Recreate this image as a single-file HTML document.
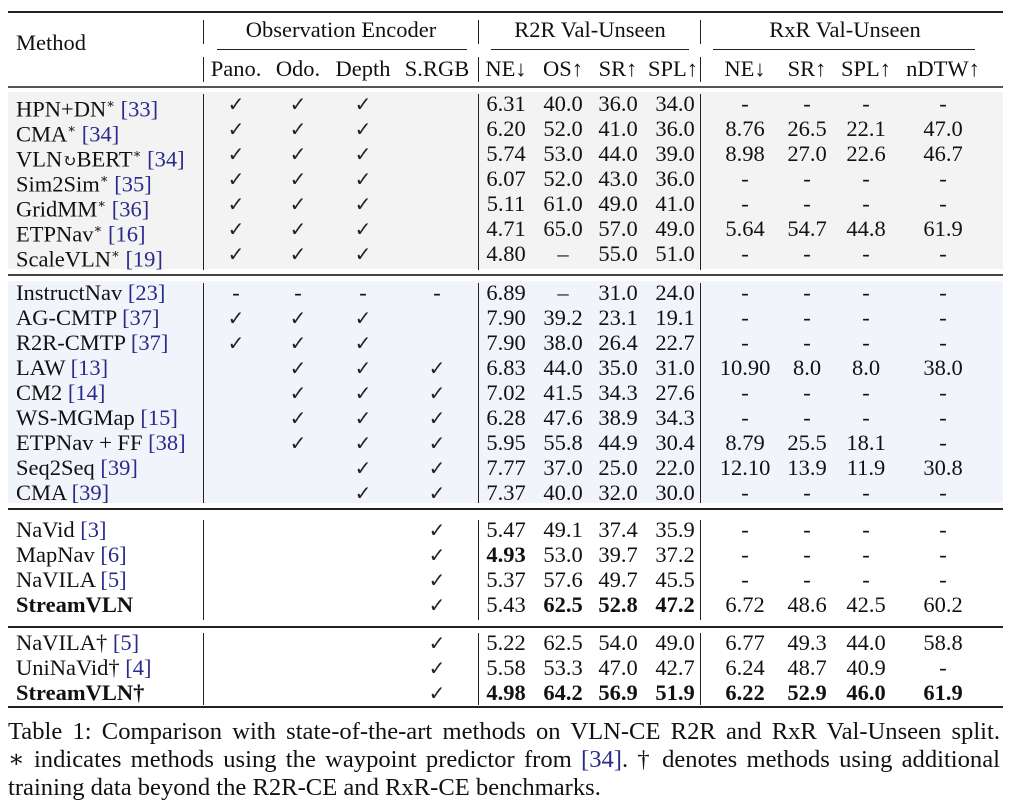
<!DOCTYPE html>
<html><head><meta charset="utf-8"><style>
body{margin:0;width:1009px;height:803px;background:#fff;position:relative;overflow:hidden;font-family:"Liberation Serif","DejaVu Serif",serif;font-size:22.5px;color:#111}
.a{position:absolute;line-height:24px;white-space:nowrap}
.c{position:absolute;line-height:24px;width:100px;margin-left:-50px;text-align:center;white-space:nowrap}
.r{position:absolute;left:8px;width:995px;background:#222}
.v{position:absolute;width:1.3px;background:#222}
.bg{position:absolute;left:8px;width:995px}
.k{color:#2a2a8a}
b{font-weight:bold}
.ck{color:#222;font-size:20px}
.cl{position:absolute;left:8px;width:992px;line-height:28px;text-align:justify;text-align-last:justify;font-size:24.6px;white-space:nowrap}
.cl2{position:absolute;left:8px;line-height:28px;font-size:24.6px;white-space:nowrap}
</style></head><body>
<div class="bg" style="top:92px;height:177px;background:#f3f3f3"></div>
<div class="bg" style="top:281px;height:222px;background:#f1f5fb"></div>
<div class="r" style="top:11px;height:2px"></div>
<div class="r" style="top:86px;height:2px;background:#555"></div>
<div class="r" style="top:274px;height:2px;background:#444"></div>
<div class="r" style="top:508px;height:1.5px"></div>
<div class="r" style="top:626px;height:1.5px"></div>
<div class="r" style="top:706px;height:2px"></div>
<div class="r" style="top:49px;height:1px;left:217px;width:250px"></div>
<div class="r" style="top:49px;height:1px;left:491px;width:198px"></div>
<div class="r" style="top:49px;height:1px;left:713px;width:262px"></div>
<div class="v" style="left:203px;top:20px;height:24px"></div>
<div class="v" style="left:478px;top:20px;height:24px"></div>
<div class="v" style="left:700px;top:20px;height:24px"></div>
<div class="v" style="left:203px;top:57px;height:25px"></div>
<div class="v" style="left:478px;top:57px;height:25px"></div>
<div class="v" style="left:700px;top:57px;height:25px"></div>
<div class="v" style="left:203px;top:94px;height:176px"></div>
<div class="v" style="left:478px;top:94px;height:176px"></div>
<div class="v" style="left:700px;top:94px;height:176px"></div>
<div class="v" style="left:203px;top:283px;height:220px"></div>
<div class="v" style="left:478px;top:283px;height:220px"></div>
<div class="v" style="left:700px;top:283px;height:220px"></div>
<div class="v" style="left:203px;top:520px;height:100px"></div>
<div class="v" style="left:478px;top:520px;height:100px"></div>
<div class="v" style="left:700px;top:520px;height:100px"></div>
<div class="v" style="left:203px;top:633px;height:72px"></div>
<div class="v" style="left:478px;top:633px;height:72px"></div>
<div class="v" style="left:700px;top:633px;height:72px"></div>

<div class="a" style="left:16px;top:31px">Method</div>
<div class="c" style="left:341px;top:18px;width:240px;margin-left:-120px">Observation Encoder</div>
<div class="c" style="left:590px;top:18px;width:200px;margin-left:-100px">R2R Val-Unseen</div>
<div class="c" style="left:845px;top:18px;width:200px;margin-left:-100px">RxR Val-Unseen</div>
<div class="c" style="left:236px;top:57px">Pano.</div>
<div class="c" style="left:298px;top:57px">Odo.</div>
<div class="c" style="left:363px;top:57px">Depth</div>
<div class="c" style="left:437px;top:57px">S.RGB</div>
<div class="c" style="left:506px;top:57px">NE↓</div>
<div class="c" style="left:563px;top:57px">OS↑</div>
<div class="c" style="left:618px;top:57px">SR↑</div>
<div class="c" style="left:673px;top:57px">SPL↑</div>
<div class="c" style="left:745px;top:57px">NE↓</div>
<div class="c" style="left:807px;top:57px">SR↑</div>
<div class="c" style="left:866px;top:57px">SPL↑</div>
<div class="c" style="left:943px;top:57px">nDTW↑</div>

<div class="a" style="left:16px;top:92px">HPN+DN<sup style="font-size:13px">∗</sup> <span class="k">[33]</span></div>
<div class="a" style="left:16px;top:117px">CMA<sup style="font-size:13px">∗</sup> <span class="k">[34]</span></div>
<div class="a" style="left:16px;top:142px">VLN<span style="font-size:17px">↻</span>BERT<sup style="font-size:13px">∗</sup> <span class="k">[34]</span></div>
<div class="a" style="left:16px;top:167px">Sim2Sim<sup style="font-size:13px">∗</sup> <span class="k">[35]</span></div>
<div class="a" style="left:16px;top:192px">GridMM<sup style="font-size:13px">∗</sup> <span class="k">[36]</span></div>
<div class="a" style="left:16px;top:217px">ETPNav<sup style="font-size:13px">∗</sup> <span class="k">[16]</span></div>
<div class="a" style="left:16px;top:242px">ScaleVLN<sup style="font-size:13px">∗</sup> <span class="k">[19]</span></div>
<div class="a" style="left:16px;top:281px">InstructNav <span class="k">[23]</span></div>
<div class="a" style="left:16px;top:306px">AG-CMTP <span class="k">[37]</span></div>
<div class="a" style="left:16px;top:331px">R2R-CMTP <span class="k">[37]</span></div>
<div class="a" style="left:16px;top:356px">LAW <span class="k">[13]</span></div>
<div class="a" style="left:16px;top:381px">CM2 <span class="k">[14]</span></div>
<div class="a" style="left:16px;top:406px">WS-MGMap <span class="k">[15]</span></div>
<div class="a" style="left:16px;top:431px">ETPNav + FF <span class="k">[38]</span></div>
<div class="a" style="left:16px;top:456px">Seq2Seq <span class="k">[39]</span></div>
<div class="a" style="left:16px;top:481px">CMA <span class="k">[39]</span></div>
<div class="a" style="left:16px;top:518px">NaVid <span class="k">[3]</span></div>
<div class="a" style="left:16px;top:543px">MapNav <span class="k">[6]</span></div>
<div class="a" style="left:16px;top:568px">NaVILA <span class="k">[5]</span></div>
<div class="a" style="left:16px;top:593px"><b>StreamVLN</b></div>
<div class="a" style="left:16px;top:631px">NaVILA† <span class="k">[5]</span></div>
<div class="a" style="left:16px;top:656px">UniNaVid† <span class="k">[4]</span></div>
<div class="a" style="left:16px;top:681px"><b>StreamVLN†</b></div>

<div id="cells"></div>
<div class="cl" style="top:718px">Table 1: Comparison with state-of-the-art methods on VLN-CE R2R and RxR Val-Unseen split.</div>
<div class="cl" style="top:746px">∗ indicates methods using the waypoint predictor from <span class="k">[34]</span>. † denotes methods using additional</div>
<div class="cl2" style="top:774px">training data beyond the R2R-CE and RxR-CE benchmarks.</div>
<script>
var X=[236,298,363,437,506,563,618,675,745,807,866,943];
var T=[92,117,142,167,192,217,242,281,306,331,356,381,406,431,456,481,518,543,568,593,631,656,681];
var C='✓';
var D=[
[C,C,C,'','6.31','40.0','36.0','34.0','-','-','-','-'],
[C,C,C,'','6.20','52.0','41.0','36.0','8.76','26.5','22.1','47.0'],
[C,C,C,'','5.74','53.0','44.0','39.0','8.98','27.0','22.6','46.7'],
[C,C,C,'','6.07','52.0','43.0','36.0','-','-','-','-'],
[C,C,C,'','5.11','61.0','49.0','41.0','-','-','-','-'],
[C,C,C,'','4.71','65.0','57.0','49.0','5.64','54.7','44.8','61.9'],
[C,C,C,'','4.80','–','55.0','51.0','-','-','-','-'],
['-','-','-','-','6.89','–','31.0','24.0','-','-','-','-'],
[C,C,C,'','7.90','39.2','23.1','19.1','-','-','-','-'],
[C,C,C,'','7.90','38.0','26.4','22.7','-','-','-','-'],
['',C,C,C,'6.83','44.0','35.0','31.0','10.90','8.0','8.0','38.0'],
['',C,C,C,'7.02','41.5','34.3','27.6','-','-','-','-'],
['',C,C,C,'6.28','47.6','38.9','34.3','-','-','-','-'],
['',C,C,C,'5.95','55.8','44.9','30.4','8.79','25.5','18.1','-'],
['','',C,C,'7.77','37.0','25.0','22.0','12.10','13.9','11.9','30.8'],
['','',C,C,'7.37','40.0','32.0','30.0','-','-','-','-'],
['','','',C,'5.47','49.1','37.4','35.9','-','-','-','-'],
['','','',C,'*4.93','53.0','39.7','37.2','-','-','-','-'],
['','','',C,'5.37','57.6','49.7','45.5','-','-','-','-'],
['','','',C,'5.43','*62.5','*52.8','*47.2','6.72','48.6','42.5','60.2'],
['','','',C,'5.22','62.5','54.0','49.0','6.77','49.3','44.0','58.8'],
['','','',C,'5.58','53.3','47.0','42.7','6.24','48.7','40.9','-'],
['','','',C,'*4.98','*64.2','*56.9','*51.9','*6.22','*52.9','*46.0','*61.9']];
var h='';
D.forEach(function(r,i){r.forEach(function(v,j){if(!v)return;var b=v[0]=='*';if(b)v=v.slice(1);
var x=X[j];
var inner=b?'<b>'+v+'</b>':(v==C?'<span class="ck">'+v+'</span>':v);
h+='<div class="c" style="left:'+x+'px;top:'+T[i]+'px">'+inner+'</div>';});});
document.getElementById('cells').innerHTML=h;
</script>
</body></html>
